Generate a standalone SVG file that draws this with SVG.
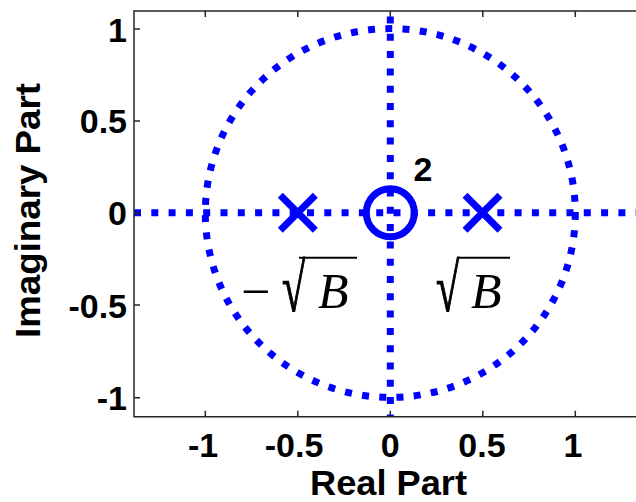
<svg xmlns="http://www.w3.org/2000/svg" width="636" height="502" viewBox="0 0 636 502">
<style>
.ax{stroke:#262626;stroke-width:1.5;fill:none}
.dot{stroke:#0000FF;stroke-width:7;fill:none;stroke-dasharray:7 10.3}
.mk{stroke:#0000FF;stroke-width:7;fill:none}
.tk{font-family:"Liberation Sans",Arial,sans-serif;font-weight:bold;font-size:34px;fill:#000}
.lb{font-family:"Liberation Sans",Arial,sans-serif;font-weight:bold;font-size:35px;fill:#000}
.mt{font-family:"Liberation Serif","Times New Roman",serif;fill:#000}
.rad{stroke:#000;stroke-width:1.2}
</style>
<rect width="636" height="502" fill="#fff"/>
<g id="plot">
  <ellipse class="dot" cx="390.3" cy="213" rx="185" ry="184.4"/>
  <line class="dot" x1="134" y1="212.7" x2="636" y2="212.7"/>
  <line class="dot" x1="390.3" y1="16.5" x2="390.3" y2="416"/>
</g>
<g id="axes">
  <path class="ax" d="M636,11 H134 V416.7 H636"/>
  <path class="ax" d="M205.3,416.7v-6 M297.8,416.7v-6 M390.3,416.7v-6 M482.8,416.7v-6 M575.3,416.7v-6 M205.3,11v6 M297.8,11v6 M390.3,11v6 M482.8,11v6 M575.3,11v6 M134,29h6 M134,121h6 M134,213h6 M134,305h6 M134,397.7h6"/>
</g>
<g id="yticks" class="tk" text-anchor="end">
  <text x="127" y="41.5">1</text>
  <text x="127" y="133">0.5</text>
  <text x="127" y="225">0</text>
  <text x="127" y="318">-0.5</text>
  <text x="127" y="410">-1</text>
</g>
<g id="xticks" class="tk" text-anchor="middle">
  <text x="203" y="457">-1</text>
  <text x="294" y="457">-0.5</text>
  <text x="390.3" y="457">0</text>
  <text x="482" y="457">0.5</text>
  <text x="573" y="457">1</text>
</g>
<text class="lb" x="388.5" y="495" text-anchor="middle" textLength="157" lengthAdjust="spacingAndGlyphs">Real Part</text>
<text class="lb" transform="translate(40,210.5) rotate(-90)" x="0" y="0" text-anchor="middle" textLength="255" lengthAdjust="spacingAndGlyphs">Imaginary Part</text>
<g id="zero">
  <circle class="mk" cx="390.3" cy="212.7" r="24"/>
  <text class="tk" x="413.5" y="181">2</text>
</g>
<g id="pole-neg">
  <path class="mk" d="M280.3,195.2 L315.3,230.2 M280.3,230.2 L315.3,195.2"/>
</g>
<g id="pole-pos">
  <path class="mk" d="M465,195.2 L500,230.2 M465,230.2 L500,195.2"/>
</g>
<g id="label-neg">
  <text class="mt" x="241" y="309" font-size="52">−</text>
  <text class="mt rad" transform="translate(282,311) scale(0.62,1)" font-size="68">√</text>
  <line x1="299" y1="257.7" x2="357" y2="257.7" stroke="#000" stroke-width="2"/>
  <text class="mt" x="318" y="308" font-size="50" font-style="italic">B</text>
</g>
<g id="label-pos">
  <text class="mt rad" transform="translate(436,311) scale(0.62,1)" font-size="68">√</text>
  <line x1="458" y1="257.7" x2="510" y2="257.7" stroke="#000" stroke-width="2"/>
  <text class="mt" x="471" y="308" font-size="50" font-style="italic">B</text>
</g>
</svg>
